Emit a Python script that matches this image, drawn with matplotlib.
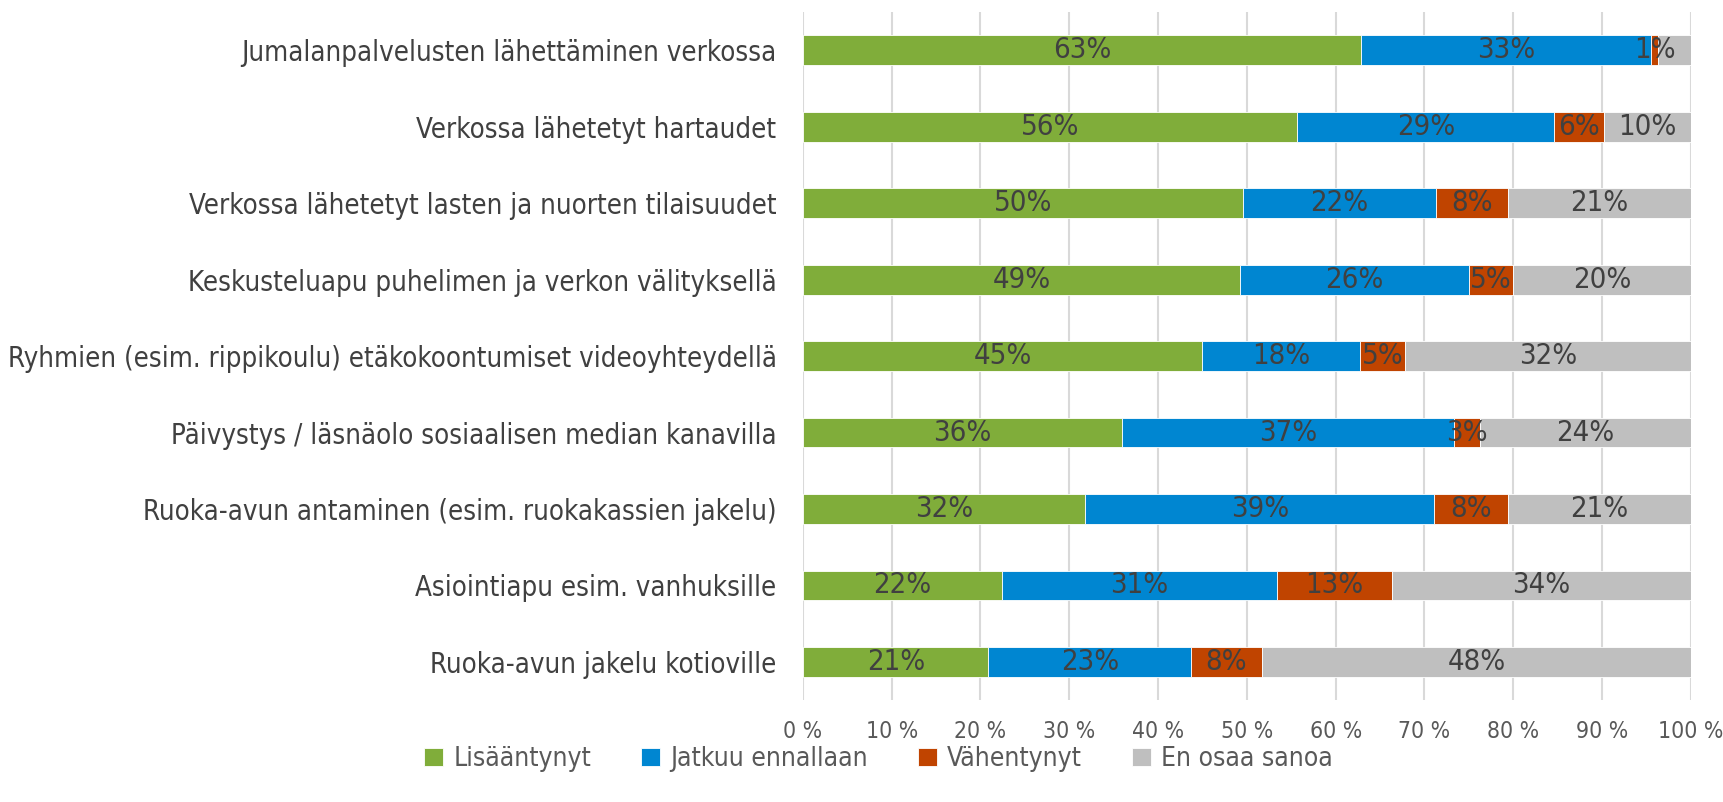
import matplotlib
matplotlib.use('Agg')
import matplotlib.pyplot as plt
import numpy as np

plt.rcParams['font.family'] = ['DejaVu Sans']
plt.rcParams['font.stretch'] = 'condensed'

# Categories (top to bottom)
categories = [
    "Jumalanpalvelusten lähettäminen verkossa",
    "Verkossa lähetetyt hartaudet",
    "Verkossa lähetetyt lasten ja nuorten tilaisuudet",
    "Keskusteluapu puhelimen ja verkon välityksellä",
    "Ryhmien (esim. rippikoulu) etäkokoontumiset videoyhteydellä",
    "Päivystys / läsnäolo sosiaalisen median kanavilla",
    "Ruoka-avun antaminen (esim. ruokakassien jakelu)",
    "Asiointiapu esim. vanhuksille",
    "Ruoka-avun jakelu kotioville",
]

series_names = ["Lisääntynyt", "Jatkuu ennallaan", "Vähentynyt", "En osaa sanoa"]

lisaantynyt = [62.9, 55.7, 49.6, 49.2, 45.0, 35.9, 31.8, 22.4, 20.9]
jatkuu = [32.6, 28.9, 21.7, 25.8, 17.8, 37.4, 39.3, 31.0, 22.8]
vahentynyt = [0.8, 5.6, 8.1, 5.0, 5.0, 3.0, 8.3, 12.9, 8.0]
en_osaa = [3.7, 9.8, 20.6, 20.0, 32.2, 23.7, 20.6, 33.7, 48.3]

# grey label of the first row is not shown in the original
show_label = [
    [True, True, True, False],
] + [[True, True, True, True]] * 8

colors = ['#80AD3A', '#0086D1', '#C04400', '#BFBFBF']
tick_labels = [f"{v} %" for v in range(0, 101, 10)]

fig = plt.figure(figsize=(17.23, 8.02), dpi=100)
ax = fig.add_axes([0.466, 0.127, 0.5153, 0.858])

data = np.array([lisaantynyt, jatkuu, vahentynyt, en_osaa])
y = np.arange(len(categories))
left = np.zeros(len(categories))

for i, name in enumerate(series_names):
    bars = ax.barh(y, data[i], left=left, height=0.39, color=colors[i],
                   edgecolor='white', linewidth=0.6, label=name, zorder=2)
    for j, b in enumerate(bars):
        if show_label[j][i]:
            ax.text(left[j] + data[i][j] / 2, y[j], f"{data[i][j]:.0f}%",
                    ha='center', va='center', fontsize=21, color='#404040', zorder=3)
    left += data[i]

ax.set_xlim(0, 100)
ax.set_ylim(len(categories) - 0.5, -0.5)
ax.set_yticks(y)
ax.set_yticklabels(categories, fontsize=19.8, color='#404040')
ax.set_xticks(range(0, 101, 10))
ax.set_xticklabels(tick_labels, fontsize=16.5, color='#595959')
ax.tick_params(axis='both', length=0)
ax.tick_params(axis='y', pad=19)
ax.tick_params(axis='x', pad=14)
ax.grid(axis='x', color='#D9D9D9', linewidth=1.5, zorder=0)
ax.set_axisbelow(True)
for s in ax.spines.values():
    s.set_visible(False)

fig.legend(loc='center', bbox_to_anchor=(0.51, 0.053), ncol=4, frameon=False,
           fontsize=19, handlelength=0.7, handleheight=0.7, handletextpad=0.4,
           columnspacing=1.9, labelcolor='#595959')

fig.savefig('out.png', dpi=100)
